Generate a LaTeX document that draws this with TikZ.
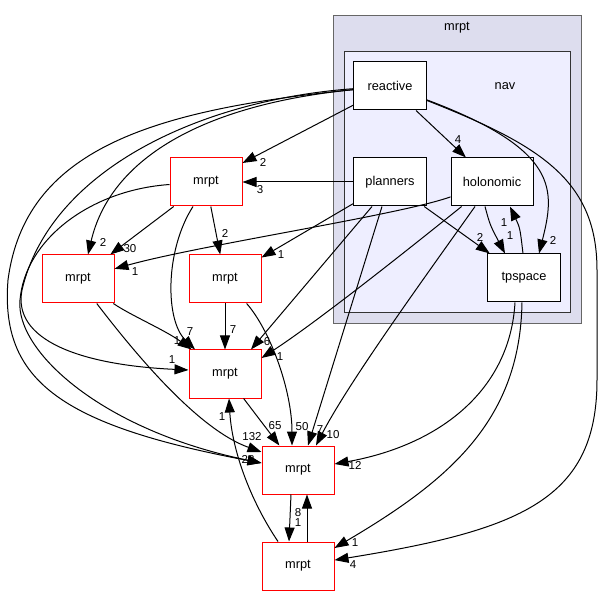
\documentclass[tikz,border=0pt]{standalone}
\usepackage{fontspec}
\setmainfont{Liberation Sans}
\usetikzlibrary{arrows.meta}
\definecolor{clusterouter}{HTML}{DDDDEE}
\definecolor{clusterinner}{HTML}{EEEEFF}
\begin{document}
\begin{tikzpicture}[
   x=1pt, y=-1pt,
   font=\fontsize{12.8}{15}\selectfont,
   dir/.style={draw=black,fill=white,line width=1pt,minimum width=73pt,minimum height=48pt,inner sep=0pt},
   ext/.style={dir,draw=red,minimum width=72pt},
   dep/.style={-{Triangle[length=14pt,width=10pt]},line width=1pt},
   hl/.style={font=\fontsize{11.5}{13}\selectfont,inner sep=0pt}]
\useasboundingbox[fill=white] (0,0) rectangle (603,596);
% clusters
\draw[draw=black!60,fill=clusterouter,line width=1pt] (333,16) rectangle (581,324);
\draw[draw=black!80,fill=clusterinner,line width=1pt] (344,52) rectangle (570,313);
\node (lblmrpt) at (457,28) {mrpt};
\node (lblnav) at (505,86) {nav};
% directories inside nav
\node[dir] (reactive) at (390,86) {reactive};
\node[dir] (planners) at (390,182) {planners};
\node[dir,minimum width=82pt] (holonomic) at (492,182) {holonomic};
\node[dir] (tpspace) at (524,278) {tpspace};
% other mrpt directories
\node[ext] (mA) at (206,182) {mrpt};
\node[ext] (mB) at (78,279) {mrpt};
\node[ext] (mC) at (225,279) {mrpt};
\node[ext] (mD) at (225,374) {mrpt};
\node[ext] (mE) at (298,470) {mrpt};
\node[ext] (mF) at (298,566) {mrpt};
% reactive
\draw[dep] (reactive) -- (holonomic) node[hl] at (458,140) {4};
\draw[dep] (reactive) .. controls (560,150) and (555,190) .. ([xshift=15pt]tpspace.north) node[hl] at (553,240) {2};
\draw[dep] (reactive) .. controls (540,145) and (597,180) .. (597,270) -- (597,380) .. controls (597,500) and (520,530) .. (mF) node[hl] at (353,565) {4};
\draw[dep] (reactive) -- (mA) node[hl] at (263,162) {2};
\draw[dep] (reactive) .. controls (200,105) and (110,160) .. ([xshift=10pt]mB.north) node[hl] at (103,242) {2};
\draw[dep] (reactive) .. controls (150,110) and (25,150) .. (8,280) .. controls (0,380) and (60,425) .. ([yshift=7pt]mE.west) node[hl] at (248,460) {28};
\draw[dep] (reactive) .. controls (200,100) and (50,170) .. (22,290) .. controls (12,340) and (80,365) .. ([yshift=4pt]mD.west) node[hl] at (172,360) {1};
% planners
\draw[dep] (planners) -- (mA) node[hl] at (260,190) {3};
\draw[dep] (planners) -- (mC) node[hl] at (281,255) {1};
\draw[dep] ([xshift=-18pt]planners.south) -- ([xshift=26pt]mD.north) node[hl] at (267,342) {6};
\draw[dep] ([xshift=-8pt]planners.south) -- ([xshift=10pt]mE.north) node[hl] at (320,430) {7};
\draw[dep] (planners) -- (tpspace) node[hl] at (480,237) {2};
% holonomic
\draw[dep] (holonomic) .. controls (400,215) and (200,245) .. (mB) node[hl] at (135,272) {1};
\draw[dep] (holonomic) .. controls (420,240) and (320,320) .. ([yshift=16pt]mD.east) node[hl] at (280,357) {1};
\draw[dep] ([xshift=-17pt]holonomic.south) .. controls (430,270) and (350,380) .. ([xshift=18pt]mE.north) node[hl] at (333,435) {10};
\draw[dep] ([xshift=-7pt]holonomic.south) .. controls (490,225) .. ([xshift=-19pt]tpspace.north) node[hl] at (510,236) {1};
% tpspace
\draw[dep] ([xshift=-1pt]tpspace.north) .. controls (520,228) .. ([xshift=18pt]holonomic.south) node[hl] at (504,223) {1};
\draw[dep] ([xshift=-9pt]tpspace.south) .. controls (510,390) and (440,445) .. ([yshift=6pt]mE.east) node[hl] at (355,465) {12};
\draw[dep] ([xshift=-2pt]tpspace.south) .. controls (520,420) and (450,480) .. ([yshift=18pt]mF.east) node[hl] at (355,543) {1};
% mrpt to mrpt
\draw[dep] (mA) -- (mB) node[hl] at (130,249) {30};
\draw[dep] (mA) -- (mC) node[hl] at (225,233) {2};
\draw[dep] ([xshift=-13pt]mA.south) .. controls (165,250) and (165,320) .. ([xshift=-30pt]mD.north) node[hl] at (190,332) {7};
\draw[dep] (mA) .. controls (90,190) and (25,240) .. (20,300) .. controls (15,350) and (100,430) .. ([yshift=7pt]mE.west);
\draw[dep] (mB) .. controls (130,315) and (165,330) .. (mD) node[hl] at (177,341) {1};
\draw[dep] (mB) .. controls (140,360) and (200,430) .. ([yshift=18pt]mE.west) node[hl] at (252,437) {132};
\draw[dep] (mC) -- (mD) node[hl] at (233,330) {7};
\draw[dep] (mC) .. controls (270,330) and (292,390) .. ([xshift=-6pt]mE.north) node[hl] at (302,427) {50};
\draw[dep] (mD) -- (mE) node[hl] at (275,426) {65};
\draw[dep] ([xshift=-7pt]mE.south) -- ([xshift=-9pt]mF.north) node[hl] at (298,523) {1};
\draw[dep] ([xshift=9pt]mF.north) -- ([xshift=9pt]mE.south) node[hl] at (298,513) {8};
\draw[dep] ([xshift=-20pt]mF.north) .. controls (250,500) and (232,450) .. ([xshift=4pt]mD.south) node[hl] at (222,417) {1};
\end{tikzpicture}
\end{document}
